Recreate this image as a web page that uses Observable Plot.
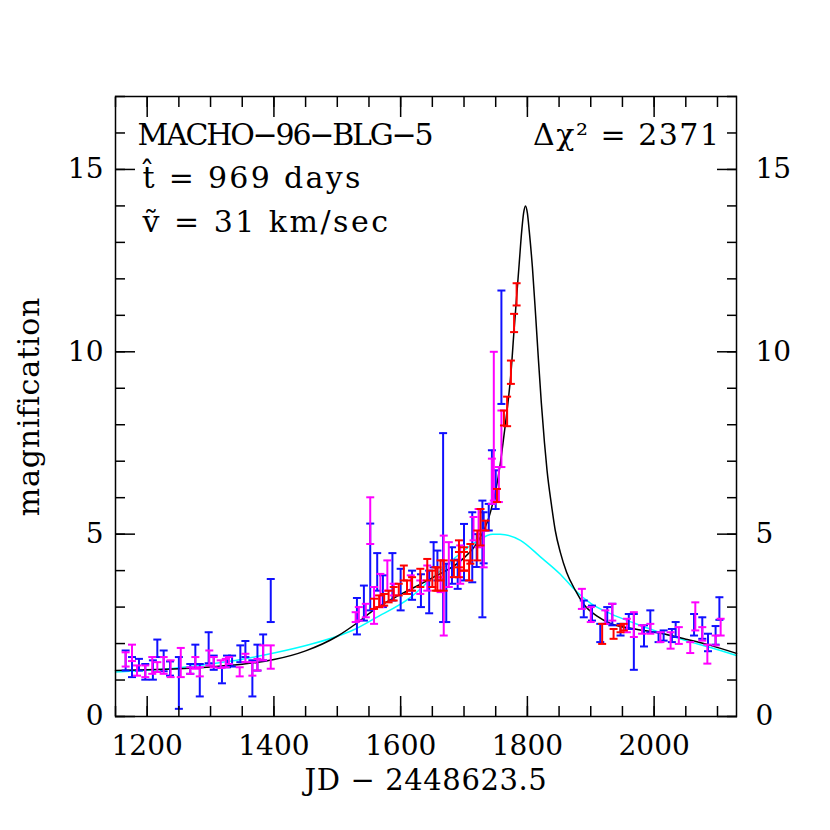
<!DOCTYPE html>
<html><head><meta charset="utf-8">
<script src="https://cdn.jsdelivr.net/npm/d3@7"></script>
<script src="https://cdn.jsdelivr.net/npm/@observablehq/plot@0.6"></script>
<style>body{margin:0;background:#fff;}</style>
</head><body><div id="chart"></div>
<script>
const xMajorTicks = [1200, 1400, 1600, 1800, 2000];
const xMinorTicks = [1150,1200,1250,1300,1350,1400,1450,1500,1550,1600,1650,1700,1750,1800,1850,1900,1950,2000,2050,2100];
const yMajorTicks = [0, 5, 10, 15];
const yMinorTicks = [0,1,2,3,4,5,6,7,8,9,10,11,12,13,14,15,16,17];

// error bars: [JD, low, high]
const blueBars = [
  [1166,1.26,1.81],[1176,1.08,1.63],[1187,1.26,1.58],[1197,1.01,1.44],[1209,1.01,1.54],[1216,1.63,2.11],
  [1226,1.24,1.81],[1236,1.12,1.51],[1250,0.21,1.63],[1268,1.17,1.44],[1276,1.33,1.97],[1283,0.55,1.44],
  [1297,1.46,2.31],[1305,1.28,1.67],[1318,0.91,1.35],[1326,1.35,1.67],[1334,1.37,1.67],[1347,1.49,1.95],
  [1355,1.63,2.07],[1366,0.55,1.54],[1374,1.26,1.97],[1383,1.54,2.25],[1395,2.59,3.77],
  [1531,2.25,3.25],[1542,2.63,3.59],[1552,2.91,5.29],[1563,3.45,4.48],[1572,3.0,3.87],[1587,3.18,4.48],
  [1600,2.91,4.05],[1618,3.2,4.0],[1632,3.0,3.9],[1645,2.83,4.0],[1652,4.09,4.78],[1658,3.73,4.55],
  [1667,2.59,7.77],[1672,2.59,4.19],[1681,3.64,4.64],[1690,3.5,4.3],[1700,3.73,5.28],[1713,3.68,5.6],
  [1720,4.1,5.0],[1729,2.72,5.92],[1731,4.2,5.6],[1739,5.1,5.83],[1744,5.83,7.3],[1750,5.69,6.75],
  [1759,8.57,11.68],
  [1889,2.72,3.18],[1902,2.63,3.04],[1915,2.04,2.54],[1926,2.54,3.0],[1934,2.5,3.09],[1947,2.22,2.54],
  [1960,2.40,2.81],[1968,1.28,2.81],[1984,1.92,2.50],[1994,2.31,2.91],[2007,2.04,2.31],[2015,2.08,2.36],
  [2028,2.04,2.40],[2034,2.18,2.59],[2063,2.22,2.81],[2076,2.13,2.72],[2085,1.79,2.27],[2097,1.97,2.48],
  [2103,2.65,3.27]
];
const magentaBars = [
  [1166,1.37,1.76],[1176,1.52,1.97],[1184,1.12,1.40],[1197,1.08,1.40],[1208,1.17,1.63],[1216,1.22,1.49],
  [1226,1.17,1.63],[1237,1.08,1.54],[1253,1.08,1.88],[1268,1.17,1.35],[1276,1.31,1.63],[1283,1.10,1.35],
  [1298,1.40,1.81],[1305,1.35,1.63],[1316,1.33,1.54],[1324,1.35,1.58],[1329,1.44,1.63],[1346,1.10,1.35],
  [1355,1.49,1.72],[1366,1.12,1.49],[1374,1.26,1.58],[1383,1.54,1.95],[1395,1.31,1.95],
  [1529,2.59,2.86],[1534,2.63,3.0],[1545,2.72,3.09],[1552,4.73,6.01],[1558,2.54,3.55],[1568,3.0,3.91],
  [1579,3.45,4.28],[1589,3.32,3.64],[1616,3.45,3.87],[1631,3.36,3.73],[1642,3.45,4.14],[1663,3.41,3.82],
  [1668,2.22,4.96],[1676,3.55,4.78],[1694,3.64,4.69],[1715,4.83,5.47],[1723,4.64,5.69],[1731,4.09,5.1],
  [1744,5.83,7.07],[1747,5.92,10.0],[1755,5.88,6.84],[1759,6.84,8.39],
  [1886,2.95,3.50],[1900,2.59,3.0],[1923,2.54,2.91],[1934,2.63,3.09],[1957,2.31,2.68],[1968,2.18,2.86],
  [1981,2.27,2.50],[1994,2.27,2.54],[2010,2.04,2.31],[2026,1.86,2.31],[2039,1.99,2.45],[2057,1.74,2.04],
  [2065,2.36,3.13],[2076,2.08,2.45],[2084,1.45,1.97],[2097,1.95,2.22],[2105,2.22,2.68]
];
const redBars = [
  [1558,2.95,3.23],[1566,3.0,3.32],[1574,3.04,3.36],[1581,3.13,3.45],[1589,3.18,3.55],[1597,3.32,3.64],
  [1605,3.73,4.14],[1610,3.36,3.73],[1618,3.45,3.82],[1631,3.55,4.05],[1642,3.73,4.32],[1650,3.55,4.0],
  [1655,3.45,4.09],[1658,3.45,4.09],[1663,3.73,4.28],[1668,3.45,4.28],[1684,3.82,4.28],[1692,3.82,4.51],
  [1692,4.09,4.83],[1700,4.0,4.64],[1700,4.0,4.51],[1708,3.73,4.28],[1710,4.19,4.73],[1721,4.28,5.1],
  [1726,4.69,5.69],[1734,5.1,5.37],[1752,5.88,6.24],[1763,7.98,8.39],[1768,7.96,8.77],[1774,9.12,9.76],
  [1779,10.54,11.04],[1783,11.27,11.88],
  [1918,1.99,2.54],[1936,2.13,2.40],[1947,2.31,2.50],[1952,2.36,2.54]
];

// model curves: [JD, magnification]
const blackFit = [
  [1150,1.26],[1200,1.28],[1250,1.31],[1300,1.36],[1350,1.43],[1400,1.56],[1450,1.80],[1500,2.20],
  [1530,2.55],[1560,2.95],[1600,3.35],[1650,3.80],[1700,4.35],[1720,4.75],[1740,5.5],[1750,6.2],
  [1757,6.9],[1763,7.7],[1768,8.4],[1774,9.4],[1779,10.6],[1783,11.5],[1787,12.4],[1791,13.3],
  [1794,13.8],[1797,14.0],[1800,13.8],[1803,13.3],[1808,12.3],[1813,11.0],[1817,9.9],[1822,8.6],
  [1827,7.5],[1831,6.75],[1838,5.8],[1844,5.1],[1852,4.5],[1862,3.95],[1876,3.45],[1888,3.1],
  [1910,2.75],[1931,2.55],[1970,2.4],[2010,2.28],[2050,2.12],[2089,1.95],[2130,1.73]
];
const cyanFit = [
  [1150,1.22],[1200,1.27],[1250,1.34],[1300,1.44],[1350,1.57],[1400,1.74],[1458,1.98],[1500,2.2],
  [1526,2.38],[1560,2.7],[1615,3.26],[1650,3.8],[1694,4.47],[1720,4.8],[1745,5.0],[1757,5.0],
  [1789,4.83],[1821,4.37],[1852,3.9],[1876,3.45],[1900,3.1],[1931,2.82],[1970,2.55],[2010,2.30],
  [2050,2.08],[2089,1.89],[2130,1.67]
];

const cap = {draw(ctx, size) { const r = Math.sqrt(size / Math.PI); ctx.moveTo(-r, 0); ctx.lineTo(r, 0); }};
function bars(data, color) {
  return [
    Plot.ruleX(data, {x: d => d[0], y1: d => d[1], y2: d => d[2], stroke: color, strokeWidth: 2}),
    Plot.dot(data, {x: d => d[0], y: d => d[1], symbol: cap, r: 4, stroke: color, strokeWidth: 2, fill: "none"}),
    Plot.dot(data, {x: d => d[0], y: d => d[2], symbol: cap, r: 4, stroke: color, strokeWidth: 2, fill: "none"})
  ];
}
function note(str, dx, dy, anchor, frame, size = 30) {
  return Plot.text([str], {frameAnchor: frame, dx, dy, textAnchor: anchor, lineAnchor: "middle", fontSize: size});
}

const chart = Plot.plot({
  width: 830, height: 830,
  marginLeft: 115, marginRight: 94, marginTop: 96, marginBottom: 114,
  x: {domain: [1150, 2130]},
  y: {domain: [0, 17]},
  style: {fontFamily: "DejaVu Serif", fontSize: "28px", background: "white", color: "black"},
  marks: [
    Plot.line(cyanFit, {x: d => d[0], y: d => d[1], stroke: "#00ffff", strokeWidth: 1.5, curve: "monotone-x"}),
    Plot.line(blackFit, {x: d => d[0], y: d => d[1], stroke: "black", strokeWidth: 1.5, curve: "monotone-x"}),
    ...bars(blueBars, "#1010ff"),
    ...bars(magentaBars, "#ff00ff"),
    ...bars(redBars, "#ff0000"),
    Plot.frame({stroke: "black", strokeWidth: 1.5}),
    Plot.axisX(xMajorTicks, {anchor: "bottom", tickSize: -20, fill: "none", label: null, strokeWidth: 1.5}),
    Plot.axisX(xMinorTicks, {anchor: "bottom", tickSize: -10, fill: "none", label: null, strokeWidth: 1.5}),
    Plot.axisX(xMajorTicks, {anchor: "top", tickSize: -20, fill: "none", label: null, strokeWidth: 1.5}),
    Plot.axisX(xMinorTicks, {anchor: "top", tickSize: -10, fill: "none", label: null, strokeWidth: 1.5}),
    Plot.axisY(yMajorTicks, {anchor: "left", tickSize: -20, fill: "none", label: null, strokeWidth: 1.5}),
    Plot.axisY(yMinorTicks, {anchor: "left", tickSize: -10, fill: "none", label: null, strokeWidth: 1.5}),
    Plot.axisY(yMajorTicks, {anchor: "right", tickSize: -20, fill: "none", label: null, strokeWidth: 1.5}),
    Plot.axisY(yMinorTicks, {anchor: "right", tickSize: -10, fill: "none", label: null, strokeWidth: 1.5}),
    Plot.axisX(xMajorTicks, {anchor: "bottom", tickSize: 0, tickPadding: 19, fontSize: 28, label: null, tickFormat: d => String(d)}),
    Plot.axisY(yMajorTicks, {anchor: "left", tickSize: 0, tickPadding: 12, fontSize: 28, label: null}),
    Plot.axisY(yMajorTicks, {anchor: "right", tickSize: 0, tickPadding: 19, fontSize: 28, label: null}),
    Plot.text(["JD − 2448623.5"], {frameAnchor: "bottom", dy: 64, textAnchor: "middle", lineAnchor: "middle", fontSize: 29}),
    Plot.text(["magnification"], {frameAnchor: "left", dx: -86, rotate: -90, textAnchor: "middle", lineAnchor: "middle", fontSize: 30}),
    note("MACHO−96−BLG−5", 22, 39, "start", "top-left"),
    note("t\u0302 = 969 days", 27, 82, "start", "top-left"),
    note("\u1E7D = 31 km/sec", 27, 126, "start", "top-left"),
    note("Δχ² = 2371", -16, 39, "end", "top-right")
  ]
});
// letter spacing to imitate the wide plotting font
const spacing = {"JD − 2448623.5": 0.6, "magnification": 0.8, "MACHO−96−BLG−5": -2.2,
  "t\u0302 = 969 days": 2.3, "\u1E7D = 31 km/sec": 2.5, "Δχ² = 2371": 1.5};
d3.select(chart).selectAll("text").each(function() {
  const s = spacing[this.textContent];
  if (s) this.setAttribute("letter-spacing", s);
});
document.getElementById("chart").appendChild(chart);
</script>
</body></html>
